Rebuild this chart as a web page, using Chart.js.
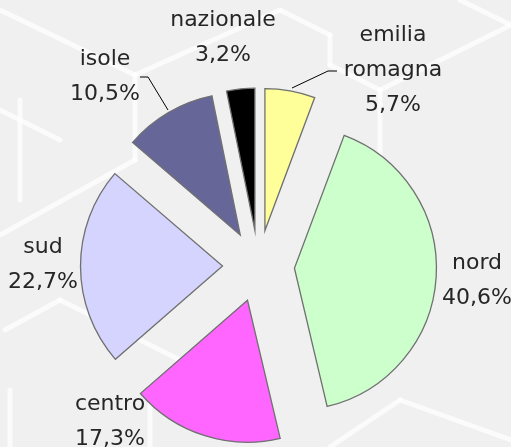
<!DOCTYPE html>
<html>
<head>
<meta charset="utf-8">
<script src="https://cdn.jsdelivr.net/npm/chart.js@4/dist/chart.umd.min.js"></script>
<style>
html,body{margin:0;padding:0;background:#f1f1f1}
#wrap{width:511px;height:447px}
</style>
</head>
<body>
<div id="wrap"><canvas id="pieHTML" width="511" height="447"></canvas></div>
<script>
const labels=["emilia romagna","nord","centro","sud","isole","nazionale"]
const labelLines=[["emilia","romagna"],["nord"],["centro"],["sud"],["isole"],["nazionale"]]
const values=[5.7,40.6,17.3,22.7,10.5,3.2]
const sliceColours=["#FFFF99","#CCFFCC","#FF66FF","#D4D4FF","#666699","#000000"]

// where each text block sits (centre x, first line y) - text placement only
const labelSpots=[[393,35],[477,263],[110,404],[43,247],[105,59],[223,20]]
const explode=36

const bgPlugin={
id:'bg',
beforeDraw(chart){
const c=chart.ctx
c.save()
c.fillStyle='#f0f0f0'
c.fillRect(0,0,chart.width,chart.height)
c.strokeStyle='rgba(255,255,255,0.7)'
c.lineWidth=5
c.lineCap='round'
const segs=[
[0,10,135,75],[135,75,135,160],[135,160,0,235],[135,75,280,10],
[0,110,60,140],[5,330,60,300],[60,300,200,370],[10,390,10,447],
[330,65,380,90],[380,90,380,200],[380,90,511,25],[280,10,330,35],
[330,35,330,65],[150,400,150,447],[330,447,400,400],[400,400,511,440],
[460,0,511,25],[20,100,20,200]
]
segs.forEach(s=>{c.beginPath();c.moveTo(s[0],s[1]);c.lineTo(s[2],s[3]);c.stroke()})
c.restore()
}
}

// pull every slice out along its middle angle (Excel style explode)
const explodePlugin={
id:'explode',
beforeDatasetDraw(chart,args){
const c=chart.ctx
args.meta.data.forEach(arc=>{
const mid=(arc.startAngle+arc.endAngle)/2
c.save()
c.translate(Math.cos(mid)*explode,Math.sin(mid)*explode)
arc.draw(c)
c.restore()
})
return false
}
}

const labelPlugin={
id:'pieLabels',
afterDraw(chart){
const c=chart.ctx
c.save()
c.font='22px "DejaVu Sans"'
c.fillStyle='#262626'
c.textAlign='center'
c.textBaseline='middle'
labelLines.forEach((lines,i)=>{
const [x,y]=labelSpots[i]
const txt=lines.concat([values[i].toFixed(1).replace('.',',')+'%'])
txt.forEach((t,k)=>c.fillText(t,x,y+k*35))
})
// leader lines
c.strokeStyle='#000'
c.lineWidth=1
c.beginPath()
c.moveTo(140,77);c.lineTo(148,77);c.lineTo(168,110)
c.moveTo(337,71);c.lineTo(328,71);c.lineTo(292,88)
c.stroke()
c.restore()
}
}

new Chart(document.getElementById('pieHTML'),{
type:'pie',
data:{
labels:labels,
datasets:[{
data:values,
backgroundColor:sliceColours,
borderColor:'#707070',
borderWidth:1.3,
borderJoinStyle:'miter'
}]
},
options:{
responsive:false,
animation:false,
radius:142,
layout:{padding:{left:6,right:0,top:85,bottom:0}},
plugins:{legend:{display:false},tooltip:{enabled:false}}
},
plugins:[bgPlugin,explodePlugin,labelPlugin]
})
</script>
</body>
</html>
